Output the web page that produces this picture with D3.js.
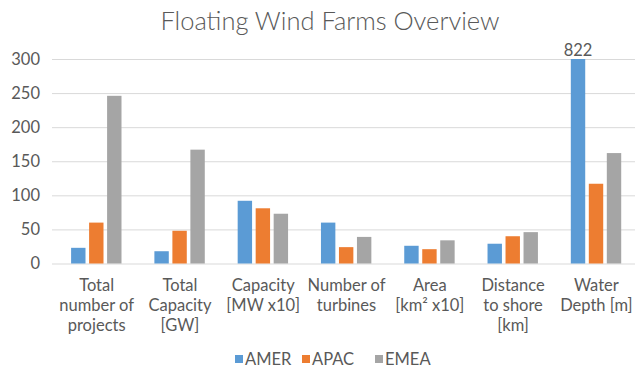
<!DOCTYPE html>
<html>
<head>
<meta charset="utf-8">
<script src="https://cdn.jsdelivr.net/npm/d3@7"></script>
<style>
  html, body { margin: 0; padding: 0; background: #fff; }
  svg { display: block; font-family: Lato, "Open Sans", sans-serif; }
</style>
</head>
<body>
<svg id="chart" width="635" height="369"></svg>
<script>
// Floating wind farm metrics by region
const categories = [
  ["Total", "number of", "projects"],
  ["Total", "Capacity", "[GW]"],
  ["Capacity", "[MW x10]"],
  ["Number of", "turbines"],
  ["Area", "[km² x10]"],
  ["Distance", "to shore", "[km]"],
  ["Water", "Depth [m]"]
];
const seriesNames = ["AMER", "APAC", "EMEA"];
const amer = [23, 18, 92, 60, 26, 29, 822];
const apac = [60, 48, 81, 24, 21, 40, 117];
const emea = [246, 167, 73, 39, 34, 46, 162];
const yTicks = [0, 50, 100, 150, 200, 250, 300];
const colors = ["#5B9BD5", "#ED7D31", "#A5A5A5"];

const values = [amer, apac, emea];
const svg = d3.select("#chart");
const textColor = "#595959";
const labelSize = 16.5;

const y = d3.scaleLinear().domain([0, 300]).range([263.5, 59]).clamp(true);
const x0 = d3.scaleBand().domain(d3.range(categories.length)).range([55, 638]).padding(0);
const x1 = d3.scaleBand().domain(seriesNames).range([14.3, 68.3]).paddingInner(0.2).paddingOuter(0.1);

// title
svg.append("text")
  .attr("x", 330).attr("y", 30)
  .attr("text-anchor", "middle")
  .attr("font-size", 25.5).attr("font-weight", 300)
  .attr("fill", textColor)
  .text("Floating Wind Farms Overview");

// gridlines and tick labels
const yAxis = d3.axisLeft(y).tickValues(yTicks).tickSize(-(638 - 52)).tickPadding(12);
const gy = svg.append("g").attr("transform", "translate(52,0)").call(yAxis);
gy.select(".domain").remove();
gy.selectAll(".tick line").attr("stroke", "#D9D9D9").attr("stroke-width", 1);
gy.selectAll(".tick text")
  .attr("font-size", labelSize).attr("fill", textColor)
  .attr("font-family", "Lato, 'Open Sans', sans-serif");

// bars
const groups = svg.append("g").selectAll("g")
  .data(categories.map((c, i) => i))
  .join("g")
  .attr("transform", i => `translate(${x0(i)},0)`);

groups.selectAll("rect")
  .data(i => seriesNames.map((s, k) => ({ s, k, v: values[k][i] })))
  .join("rect")
  .attr("x", d => x1(d.s))
  .attr("width", x1.bandwidth())
  .attr("y", d => y(d.v))
  .attr("height", d => y(0) - y(d.v))
  .attr("fill", d => colors[d.k]);

// value label for the bar that runs past the axis maximum
groups.selectAll("text.over")
  .data(i => seriesNames.map((s, k) => ({ s, k, v: values[k][i] })).filter(d => d.v > 300))
  .join("text")
  .attr("class", "over")
  .attr("x", d => x1(d.s) + x1.bandwidth() / 2)
  .attr("y", y(300) - 3)
  .attr("text-anchor", "middle")
  .attr("font-size", labelSize).attr("fill", textColor)
  .text(d => d.v);

// category labels
groups.append("text")
  .attr("text-anchor", "middle")
  .attr("font-size", labelSize).attr("fill", textColor)
  .selectAll("tspan")
  .data(i => categories[i])
  .join("tspan")
  .attr("x", x0.bandwidth() / 2)
  .attr("y", (d, j) => 291 + j * 20)
  .text(d => d);

// legend
const legendX = [235, 302, 375];
const legend = svg.append("g").selectAll("g")
  .data(seriesNames)
  .join("g")
  .attr("transform", (d, k) => `translate(${legendX[k]},355)`);
legend.append("rect").attr("width", 8).attr("height", 8).attr("fill", (d, k) => colors[k]);
legend.append("text")
  .attr("x", 10).attr("y", 9.5)
  .attr("font-size", labelSize).attr("fill", textColor)
  .text(d => d);
</script>
</body>
</html>
